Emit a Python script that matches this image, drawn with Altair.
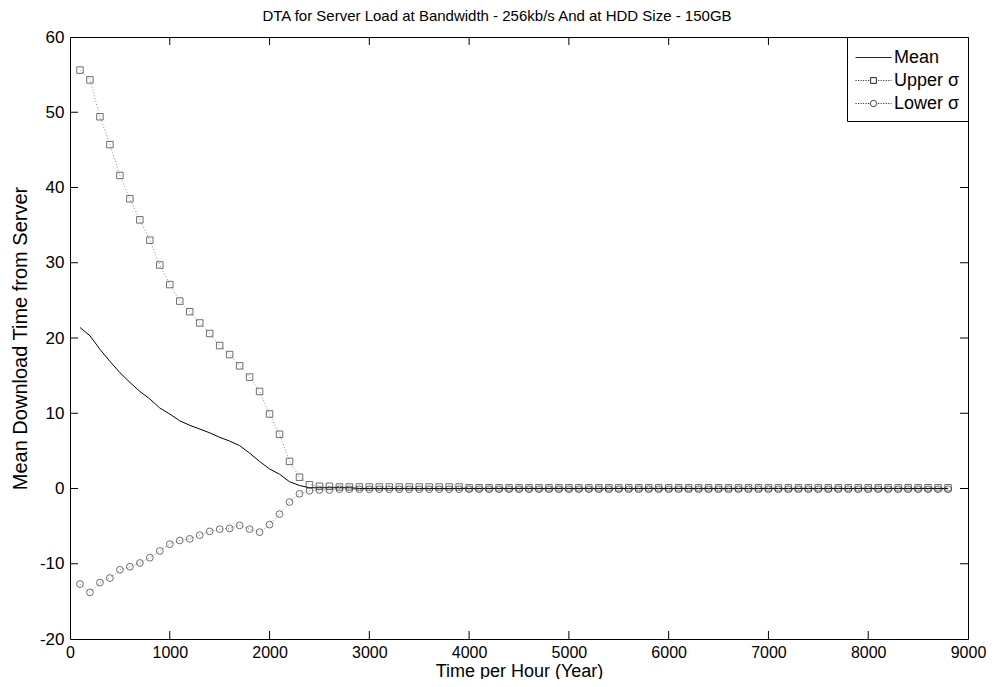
import altair as alt
import pandas as pd

# ---------------- data ----------------
hours = list(range(100, 8900, 100))  # 100 .. 8800

mean_vals = [21.4, 20.3, 18.5, 16.9, 15.4, 14.1, 12.9, 11.9, 10.7, 9.9,
             9.0, 8.4, 7.9, 7.4, 6.8, 6.3, 5.7, 4.7, 3.6, 2.6,
             1.9, 0.9, 0.4, 0.1,
             0.1, 0.1, 0.1, 0.1, 0.0, 0.0, 0.0, 0.0,
             0.0, 0.0, 0.0, 0.0, 0.0, 0.0, 0.0, 0.0,
             0.0, 0.0, 0.0, 0.0, 0.0, 0.0, 0.0, 0.0,
             0.0, 0.0, 0.0, 0.0, 0.0, 0.0, 0.0, 0.0,
             0.0, 0.0, 0.0, 0.0, 0.0, 0.0, 0.0, 0.0,
             0.0, 0.0, 0.0, 0.0, 0.0, 0.0, 0.0, 0.0,
             0.0, 0.0, 0.0, 0.0, 0.0, 0.0, 0.0, 0.0,
             0.0, 0.0, 0.0, 0.0, 0.0, 0.0, 0.0, 0.0]

upper_vals = [55.6, 54.3, 49.4, 45.7, 41.6, 38.5, 35.7, 33.0, 29.7, 27.1,
              24.9, 23.5, 22.0, 20.6, 19.0, 17.8, 16.3, 14.8, 12.9, 9.9,
              7.2, 3.6, 1.5, 0.5,
              0.3, 0.3, 0.2, 0.2, 0.2, 0.2, 0.2, 0.2,
              0.2, 0.2, 0.2, 0.2, 0.2, 0.2, 0.2, 0.1,
              0.1, 0.1, 0.1, 0.1, 0.1, 0.1, 0.1, 0.1,
              0.1, 0.1, 0.1, 0.1, 0.1, 0.1, 0.1, 0.1,
              0.1, 0.1, 0.1, 0.1, 0.1, 0.1, 0.1, 0.1,
              0.1, 0.1, 0.1, 0.1, 0.1, 0.1, 0.1, 0.1,
              0.1, 0.1, 0.1, 0.1, 0.1, 0.1, 0.1, 0.1,
              0.1, 0.1, 0.1, 0.1, 0.1, 0.1, 0.1, 0.1]

lower_vals = [-12.7, -13.8, -12.5, -11.9, -10.8, -10.4, -9.9, -9.2, -8.3, -7.4,
              -6.9, -6.7, -6.2, -5.7, -5.4, -5.3, -4.9, -5.4, -5.8, -4.8,
              -3.4, -1.8, -0.7, -0.3,
              -0.2, -0.2, -0.1, -0.1, -0.1, -0.1, -0.1, -0.1,
              -0.1, -0.1, -0.1, -0.1, -0.1, -0.1, -0.1, -0.1,
              -0.1, -0.1, -0.1, -0.1, -0.1, -0.1, -0.1, -0.1,
              -0.1, -0.1, -0.1, -0.1, -0.1, -0.1, -0.1, -0.1,
              -0.1, -0.1, -0.1, -0.1, -0.1, -0.1, -0.1, -0.1,
              -0.1, -0.1, -0.1, -0.1, -0.1, -0.1, -0.1, -0.1,
              -0.1, -0.1, -0.1, -0.1, -0.1, -0.1, -0.1, -0.1,
              -0.1, -0.1, -0.1, -0.1, -0.1, -0.1, -0.1, -0.1]

series_names = ["Mean", "Upper σ", "Lower σ"]
x_ticks = [0, 1000, 2000, 3000, 4000, 5000, 6000, 7000, 8000, 9000]
y_ticks = [-20, -10, 0, 10, 20, 30, 40, 50, 60]

title_text = "DTA for Server Load at Bandwidth - 256kb/s And at HDD Size - 150GB"
x_title = "Time per Hour (Year)"
y_title = "Mean Download Time from Server"

# ---------------- tables ----------------
df = pd.DataFrame({
    "hour": hours * 3,
    "value": mean_vals + upper_vals + lower_vals,
    "series": [series_names[0]] * len(hours) + [series_names[1]] * len(hours) + [series_names[2]] * len(hours),
})
xt_df = pd.DataFrame({"t": x_ticks[1:-1]})
yt_df = pd.DataFrame({"t": y_ticks[1:-1]})

# ---------------- style ----------------
W, H = 898, 602
FONT = "Liberation Sans"
TICK = 8

xscale = alt.Scale(domain=[0, 9000], nice=False, zero=False)
yscale = alt.Scale(domain=[-20, 60], nice=False, zero=False)

xaxis = alt.Axis(values=x_ticks, title=x_title, ticks=False, tickSize=0, domain=False, grid=False,
                 labelFont=FONT, labelFontSize=16, labelColor="black", labelPadding=5,
                 labelFlush=False, labelOverlap=False, labelExpr="'' + datum.value",
                 titleFont=FONT, titleFontSize=18, titleFontWeight="normal", titleColor="black",
                 titleBaseline="alphabetic", titleY=37)
yaxis = alt.Axis(values=y_ticks, title=y_title, ticks=False, tickSize=0, domain=False, grid=False,
                 labelFont=FONT, labelFontSize=17, labelColor="black", labelPadding=6,
                 labelFlush=False, labelOverlap=False, labelExpr="'' + datum.value",
                 titleFont=FONT, titleFontSize=20, titleFontWeight="normal", titleColor="black",
                 titleBaseline="alphabetic", titleX=-44, titleY=H / 2, titleAngle=270)

X = alt.X("hour:Q", scale=xscale, axis=xaxis)
Y = alt.Y("value:Q", scale=yscale, axis=yaxis)

base = alt.Chart(df)

mean_line = base.transform_filter(alt.datum.series == "Mean").mark_line(
    color="black", strokeWidth=1).encode(x=X, y=Y)

sigma_lines = base.transform_filter(alt.datum.series != "Mean").mark_line(
    color="#8a8a8a", strokeWidth=1, strokeDash=[1, 2]).encode(x=X, y=Y, detail="series:N")

upper_pts = base.transform_filter(alt.datum.series == "Upper σ").mark_point(
    shape="square", size=42, filled=False, color="#333333", strokeWidth=1).encode(x=X, y=Y)

lower_pts = base.transform_filter(alt.datum.series == "Lower σ").mark_point(
    shape="circle", size=46, filled=False, color="#333333", strokeWidth=1).encode(x=X, y=Y)


# legend symbols: line + marker paths (scaled by the legend symbol size)
SPAN = 1.5  # path half-length in symbol units


def dotted(skip=0.0):
    segs = []
    x = -SPAN
    while x < SPAN:
        x2 = min(x + 0.09, SPAN)
        if not (abs(x) < skip or abs(x2) < skip):
            segs.append(f"M{x:.3f},0H{x2:.3f}")
        x += 0.21
    return "".join(segs)


sq = 0.24
path_mean = f"M-{SPAN},0H{SPAN}"
path_upper = dotted(0.3) + f"M-{sq},-{sq}H{sq}V{sq}H-{sq}Z"
r = 0.26
path_lower = dotted(0.3) + f"M{r},0A{r},{r} 0 1,1 -{r},0A{r},{r} 0 1,1 {r},0Z"

legend_layer = base.mark_point(opacity=0, filled=False, color="black", strokeWidth=1).encode(
    x=X, y=Y,
    shape=alt.Shape("series:N",
                    scale=alt.Scale(domain=series_names, range=[path_mean, path_upper, path_lower]),
                    legend=alt.Legend(title=None, orient="top-right", offset=0,
                                      strokeColor="black", fillColor="white",
                                      padding=8, symbolSize=576, symbolStrokeWidth=1,
                                      symbolStrokeColor="#222222", symbolOpacity=1,
                                      symbolOffset=6, labelOffset=8,
                                      labelFont=FONT, labelFontSize=18, labelColor="black",
                                      rowPadding=1)),
)

# inward tick marks on all four sides
bx = alt.Chart(xt_df).mark_rule(color="black", strokeWidth=1).encode(
    x=alt.X("t:Q", scale=xscale, axis=xaxis), y=alt.value(H), y2=alt.value(H - TICK))
tx = alt.Chart(xt_df).mark_rule(color="black", strokeWidth=1).encode(
    x=alt.X("t:Q", scale=xscale, axis=xaxis), y=alt.value(0), y2=alt.value(TICK))
ly = alt.Chart(yt_df).mark_rule(color="black", strokeWidth=1).encode(
    y=alt.Y("t:Q", scale=yscale, axis=yaxis), x=alt.value(0), x2=alt.value(TICK))
ry = alt.Chart(yt_df).mark_rule(color="black", strokeWidth=1).encode(
    y=alt.Y("t:Q", scale=yscale, axis=yaxis), x=alt.value(W), x2=alt.value(W - TICK))

chart = alt.layer(
    sigma_lines, mean_line, upper_pts, lower_pts, legend_layer, bx, tx, ly, ry
).resolve_scale(shape="independent").properties(
    width=W, height=H,
    title=alt.TitleParams(title_text, font=FONT, fontSize=15, fontWeight="normal", color="black",
                          anchor="middle", frame="group", offset=4, dx=-22),
    padding={"left": 62, "top": 29, "right": 21, "bottom": 40},
    autosize=alt.AutoSizeParams(type="none"),
    background="white",
).configure_view(stroke="black", strokeWidth=1)

chart.save("out.html", embed_options={"renderer": "svg", "actions": False})
